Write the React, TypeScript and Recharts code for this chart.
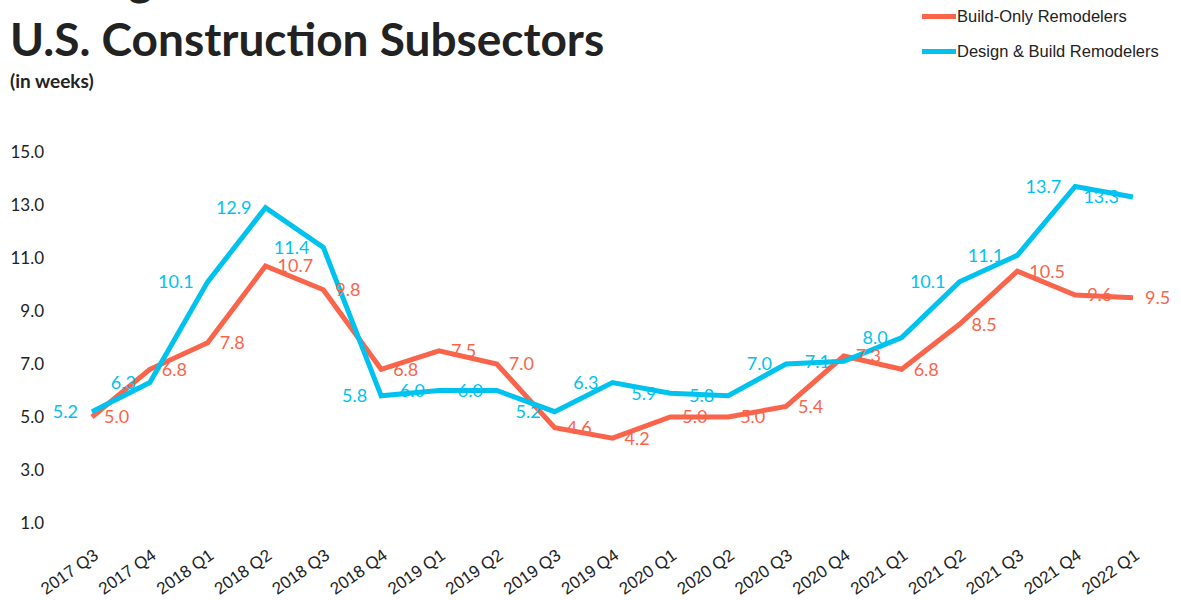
import React from "react";
import { LabelList, Line, LineChart, XAxis, YAxis } from "recharts";

const quarters = [
  "2017 Q3", "2017 Q4", "2018 Q1", "2018 Q2", "2018 Q3", "2018 Q4", "2019 Q1",
  "2019 Q2", "2019 Q3", "2019 Q4", "2020 Q1", "2020 Q2", "2020 Q3", "2020 Q4",
  "2021 Q1", "2021 Q2", "2021 Q3", "2021 Q4", "2022 Q1"
];
const buildOnly = [5.0, 6.8, 7.8, 10.7, 9.8, 6.8, 7.5, 7.0, 4.6, 4.2, 5.0, 5.0, 5.4, 7.3, 6.8, 8.5, 10.5, 9.6, 9.5];
const designBuild = [5.2, 6.3, 10.1, 12.9, 11.4, 5.8, 6.0, 6.0, 5.2, 6.3, 5.9, 5.8, 7.0, 7.1, 8.0, 10.1, 11.1, 13.7, 13.3];
const yTicks = [1, 3, 5, 7, 9, 11, 13, 15];

const ORANGE = "#fa644b";
const BLUE = "#00c2ee";

const data = quarters.map((q, i) => ({ q, buildOnly: buildOnly[i], designBuild: designBuild[i] }));

const QuarterTick = ({ x, y, payload }: any) => (
  <g transform={`translate(${x + 4},${y + 22})`}>
    <text
      textAnchor="end"
      transform="rotate(-35)"
      fontFamily="Liberation Sans, Arial, sans-serif"
      fontSize={17}
      fill="#222"
      dy="0.35em"
    >
      {payload.value}
    </text>
  </g>
);

const legendItems = [
  { name: "Build-Only Remodelers", color: ORANGE },
  { name: "Design & Build Remodelers", color: BLUE }
];

export default function App() {
  const fmt = (v: any) => Number(v).toFixed(1);
  return (
    <div style={{ position: "absolute", left: 0, top: 0, width: 1181, height: 600, background: "#fff", overflow: "hidden" }}>
      <div style={{ position: "absolute", left: 10, top: -48, fontFamily: "Lato, sans-serif", fontWeight: 700, fontSize: 46, color: "#222", whiteSpace: "nowrap", lineHeight: "52px" }}>
        Average
      </div>
      <div style={{ position: "absolute", left: 10, top: 13, fontFamily: "Lato, sans-serif", fontWeight: 700, fontSize: 46, color: "#222", whiteSpace: "nowrap", lineHeight: "52px" }}>
        U.S. Construction Subsectors
      </div>
      <div style={{ position: "absolute", left: 10, top: 69, fontFamily: "Lato, sans-serif", fontWeight: 700, fontSize: 19, color: "#222" }}>
        (in weeks)
      </div>
      <div style={{ position: "absolute", left: 922, top: 7, fontFamily: "Liberation Sans, Arial, sans-serif", fontSize: 16.5, color: "#222" }}>
        {legendItems.map((it, i) => (
          <div key={it.name} style={{ display: "flex", alignItems: "center", height: 19, marginBottom: i === 0 ? 16 : 0 }}>
            <span style={{ display: "inline-block", width: 34, height: 5, background: it.color }} />
            <span style={{ marginLeft: 1 }}>{it.name}</span>
          </div>
        ))}
      </div>
      <div style={{ position: "absolute", left: 0, top: 0 }}>
        <LineChart width={1181} height={600} data={data} margin={{ top: 152, right: 48, bottom: 0, left: 0 }}>
          <XAxis dataKey="q" axisLine={false} tickLine={false} tick={<QuarterTick />} interval={0} height={77} />
          <YAxis
            domain={[1, 15]}
            ticks={yTicks}
            tickFormatter={fmt}
            axisLine={false}
            tickLine={false}
            tickSize={0}
            tickMargin={48}
            width={92}
            tick={{ fontFamily: "Lato, sans-serif", fontSize: 17, fill: "#222" }}
          />
          <Line type="linear" dataKey="buildOnly" stroke={ORANGE} strokeWidth={5} dot={false} isAnimationActive={false}>
            <LabelList dataKey="buildOnly" position="right" offset={12} formatter={fmt} fill={ORANGE} fontFamily="Lato, sans-serif" fontSize={18} />
          </Line>
          <Line type="linear" dataKey="designBuild" stroke={BLUE} strokeWidth={5} dot={false} isAnimationActive={false}>
            <LabelList dataKey="designBuild" position="left" offset={14} formatter={fmt} fill={BLUE} fontFamily="Lato, sans-serif" fontSize={18} />
          </Line>
        </LineChart>
      </div>
    </div>
  );
}
